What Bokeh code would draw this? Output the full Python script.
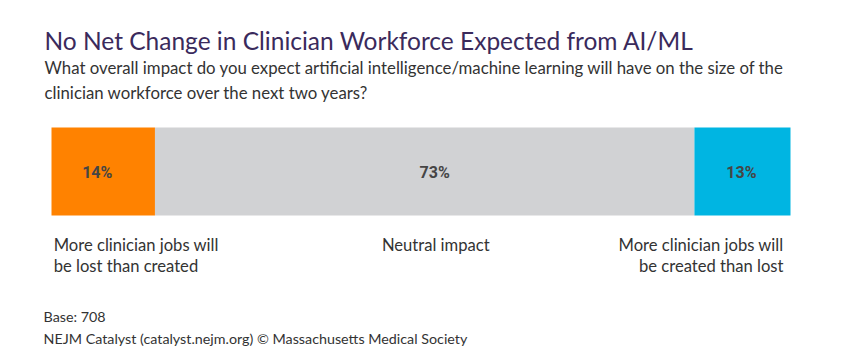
from bokeh.plotting import figure
from bokeh.models import Range1d, ColumnDataSource, Label
from bokeh.embed import file_html
from bokeh.resources import INLINE
from bokeh.core.properties import value

# ---- data ----
categories = ["More clinician jobs will be lost than created", "Neutral impact",
              "More clinician jobs will be created than lost"]
shares = [14, 73, 13]
colors = ["#FF8200", "#D1D2D4", "#00B5E2"]
pct_labels = ["14%", "73%", "13%"]
title = "No Net Change in Clinician Workforce Expected from AI/ML"
subtitle = ["What overall impact do you expect artificial intelligence/machine learning will have on the size of the",
            "clinician workforce over the next two years?"]
footer = ["Base: 708", "NEJM Catalyst (catalyst.nejm.org) \u00a9 Massachusetts Medical Society"]

# ---- style / layout ----
label_nudge_px = [-6, 10, -1]

W, H = 829, 347
BAR_X0, BAR_W = 51, 739  # frame pixels for 0..100
scale = BAR_W / 100.0

def dx(px):  # frame pixel -> data x
    return (px - BAR_X0) / scale

p = figure(width=W, height=H, output_backend="svg", toolbar_location=None,
           x_range=Range1d(dx(0), dx(W)), y_range=Range1d(H, 0),
           min_border=0, outline_line_color=None)
p.axis.visible = False
p.xgrid.visible = False
p.ygrid.visible = False
p.background_fill_color = "white"
p.border_fill_color = "white"

lefts, rights, mids = [], [], []
acc = 0
for s in shares:
    lefts.append(acc)
    rights.append(acc + s)
    mids.append(acc + s / 2)
    acc += s

src = ColumnDataSource(dict(left=lefts, right=rights, mid=mids, color=colors,
                            label=pct_labels, y=[171] * 3, xo=label_nudge_px))
p.hbar(y="y", left="left", right="right", height=88, color="color", source=src,
       line_color=None)
p.text(x="mid", y="y", text="label", source=src, text_align="center",
       text_baseline="middle", text_font=value("Roboto"), text_font_style="bold",
       text_font_size="16px", text_color="#454545", y_offset=1, x_offset="xo")

# title and subtitle
p.add_layout(Label(x=dx(44), y=39.5, text=title, text_font="Lato", text_font_size="24.5px",
                   text_color="#3a2a5c", text_baseline="alphabetic"))
for i, line in enumerate(subtitle):
    p.add_layout(Label(x=dx(44), y=66.7 + 25 * i, text=line, text_font="Lato",
                       text_font_size="16.8px", text_color="#333333",
                       text_baseline="alphabetic"))

# category labels
cat_lines = [["More clinician jobs will", "be lost than created"],
             ["Neutral impact"],
             ["More clinician jobs will", "be created than lost"]]
aligns = ["left", "center", "right"]
xs = [lefts[0] + 0.3, 52.0, rights[2] - 0.95]
for lines, al, xx in zip(cat_lines, aligns, xs):
    for j, ln in enumerate(lines):
        p.add_layout(Label(x=xx, y=244 + 21 * j, text=ln, text_font="Lato",
                           text_font_size="16.6px", text_color="#333333",
                           text_align=al, text_baseline="alphabetic"))

# footer
for i, line in enumerate(footer):
    p.add_layout(Label(x=dx(43), y=316 + 22 * i, text=line, text_font="Lato",
                       text_font_size="14.3px", text_color="#333333",
                       text_baseline="alphabetic"))

open("out.html", "w").write(file_html(p, INLINE))
